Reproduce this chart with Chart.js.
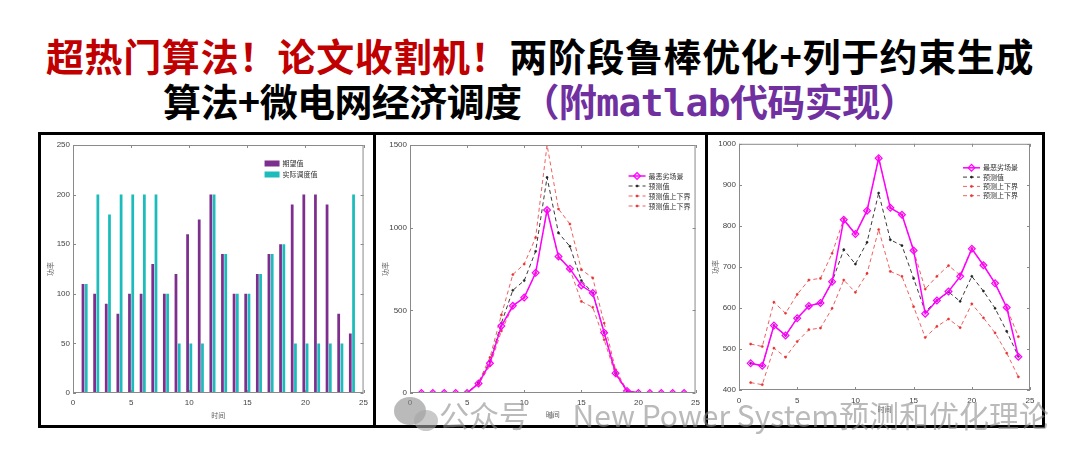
<!DOCTYPE html>
<html>
<head>
<meta charset="utf-8">
<script src="https://cdn.jsdelivr.net/npm/chart.js@4.4.1/dist/chart.umd.min.js"></script>
<style>
  html, body { margin: 0; padding: 0; background: #fff; }
  body { width: 1080px; height: 465px; position: relative; overflow: hidden; font-family: "Noto Sans CJK SC", sans-serif; }
  .title { position: absolute; left: 0; width: 1080px; text-align: center; font-weight: 700; font-size: 38px; line-height: 44px; white-space: nowrap; color: #000; }
  .red { color: #c00000; }
  .purple { color: #7030a0; }
  .mono { font-family: "DejaVu Sans Mono", monospace; }
  .frame { position: absolute; left: 38px; top: 132px; width: 1007px; height: 296px; box-sizing: border-box; border: 3px solid #000; }
  .divider { position: absolute; top: 132px; width: 3px; height: 296px; background: #000; }
  .panel { position: absolute; top: 136px; height: 290px; }
  .wm { position: absolute; left: 439px; top: 394px; font-size: 30px; line-height: 40px; color: rgba(140,140,140,0.6); white-space: nowrap; z-index: 5; }
  .wx1 { position: absolute; left: 394px; top: 397px; width: 32px; height: 28px; border-radius: 50%; background: rgba(140,140,140,0.6); z-index: 5; }
  .wx2 { position: absolute; left: 414px; top: 410px; width: 24px; height: 21px; border-radius: 50%; background: rgba(165,165,165,0.6); z-index: 5; }
</style>
</head>
<body>
<div class="title" style="top:33px;letter-spacing:0.6px"><span class="red">超热门算法！论文收割机！</span>两阶段鲁棒优化+列于约束生成</div>
<div class="title" style="top:78px;letter-spacing:-0.6px">算法+微电网经济调度<span class="purple">（附<span class="mono">matlab</span>代码实现）</span></div>

<div class="frame"></div>
<div class="divider" style="left:373px"></div>
<div class="divider" style="left:705px"></div>

<div class="panel" style="left:42px;width:331px"><canvas id="chartBars"></canvas></div>
<div class="panel" style="left:377px;width:328px"><canvas id="chartPv"></canvas></div>
<div class="panel" style="left:709px;width:333px"><canvas id="chartLoad"></canvas></div>

<div class="wx1"></div><div class="wx2"></div>
<div class="wm">公众号 · New Power System预测和优化理论</div>

<script>
'use strict';

/* ── Data ── */
const hours = [1, 2, 3, 4, 5, 6, 7, 8, 9, 10, 11, 12, 13, 14, 15, 16, 17, 18, 19, 20, 21, 22, 23, 24];

// panel 1: bars
const barLabels   = ['期望值', '实际调度值'];
const barExpected = [110, 100, 90, 80, 100, 100, 130, 100, 120, 160, 175, 200, 140, 100, 100, 120, 140, 150, 190, 200, 200, 190, 80, 60];
const barDispatch = [110, 200, 180, 200, 200, 200, 200, 100, 50, 50, 50, 200, 140, 100, 100, 120, 140, 150, 50, 50, 50, 50, 50, 200];

// panel 2: PV output
const pvLabels   = ['最恶劣场景', '预测值', '预测值上下界', '预测值上下界'];
const pvWorst    = [0, 0, 0, 0, 0, 58, 180, 405, 527, 577, 727, 1107, 825, 752, 650, 605, 365, 120, 12, 0, 0, 0, 0, 0];
const pvForecast = [0, 0, 0, 0, 0, 60, 192, 422, 621, 680, 857, 1304, 968, 887, 680, 605, 365, 120, 12, 0, 0, 0, 0, 0];
const pvUpper    = [0, 0, 0, 0, 0, 65, 215, 472, 716, 780, 940, 1500, 1113, 1022, 746, 696, 423, 141, 15, 0, 0, 0, 0, 0];
const pvLower    = [0, 0, 0, 0, 0, 52, 165, 375, 525, 578, 725, 1105, 820, 748, 554, 518, 322, 107, 9, 0, 0, 0, 0, 0];

// panel 3: load
const loadLabels   = ['最恶劣场景', '预测值', '预测上下界', '预测上下界'];
const loadWorst    = [465, 459, 557, 533, 575, 605, 612, 664, 815, 780, 837, 965, 844, 827, 740, 586, 618, 640, 677, 744, 704, 660, 601, 481];
const loadForecast = [465, 459, 557, 533, 575, 605, 612, 664, 742, 707, 760, 880, 766, 752, 672, 591, 618, 639, 616, 677, 641, 599, 543, 482];
const loadUpper    = [512, 506, 614, 587, 633, 668, 672, 733, 817, 780, 837, 966, 844, 827, 740, 646, 677, 703, 680, 745, 705, 660, 600, 530];
const loadLower    = [418, 413, 502, 480, 518, 547, 551, 599, 668, 638, 684, 791, 689, 677, 603, 528, 555, 573, 552, 610, 576, 539, 490, 432];

const xTitle = '时间';
const yTitle = '功率';

/* ── Defaults ── */
const CJK = "'Noto Sans CJK SC', sans-serif";
Chart.defaults.font.family = "'Liberation Sans', Arial, sans-serif";
Chart.defaults.font.size = 8;
Chart.defaults.color = '#444';
Chart.defaults.animation = false;
Chart.defaults.events = [];
Chart.defaults.plugins.legend.display = false;
Chart.defaults.plugins.tooltip.enabled = false;

const points = (arr) => hours.map((h, i) => ({ x: h, y: arr[i] }));

/* ── MATLAB-like box with inward ticks ── */
const matlabBox = {
  id: 'matlabBox',
  afterDatasetsDraw(chart) {
    const { ctx, chartArea: a, scales: { x, y } } = chart;
    ctx.save();
    ctx.strokeStyle = '#8a8a8a';
    ctx.lineWidth = 1;
    ctx.strokeRect(a.left + 0.5, a.top + 0.5, a.width - 1, a.height - 1);
    ctx.beginPath();
    x.ticks.forEach(t => {
      const px = Math.round(x.getPixelForValue(t.value)) + 0.5;
      ctx.moveTo(px, a.bottom); ctx.lineTo(px, a.bottom - 3);
      ctx.moveTo(px, a.top);    ctx.lineTo(px, a.top + 3);
    });
    y.ticks.forEach(t => {
      const py = Math.round(y.getPixelForValue(t.value)) + 0.5;
      ctx.moveTo(a.left, py);  ctx.lineTo(a.left + 3, py);
      ctx.moveTo(a.right, py); ctx.lineTo(a.right - 3, py);
    });
    ctx.stroke();
    ctx.restore();
  }
};

/* ── Legend inside the axes (top right) ── */
const insideLegend = {
  id: 'insideLegend',
  afterDraw(chart, args, opts) {
    const { ctx, chartArea: a } = chart;
    const x0 = a.right - opts.right;
    let yy = a.top + opts.top;
    ctx.save();
    ctx.font = `7px ${CJK}`;
    ctx.textBaseline = 'middle';
    chart.data.datasets.forEach(ds => {
      if (chart.config.type === 'bar') {
        ctx.fillStyle = ds.backgroundColor;
        ctx.fillRect(x0, yy - 3, 15, 6);
      } else {
        ctx.strokeStyle = ds.borderColor;
        ctx.lineWidth = ds.borderWidth;
        ctx.setLineDash(ds.borderDash || []);
        ctx.beginPath();
        ctx.moveTo(x0, yy); ctx.lineTo(x0 + opts.sample, yy);
        ctx.stroke();
        ctx.setLineDash([]);
        ctx.fillStyle = ds.pointBackgroundColor;
        ctx.strokeStyle = ds.pointBorderColor;
        ctx.lineWidth = ds.pointBorderWidth;
        Chart.helpers.drawPoint(ctx, { pointStyle: ds.pointStyle, radius: ds.pointRadius, rotation: 0, borderWidth: ds.pointBorderWidth }, x0 + opts.sample / 2, yy);
      }
      ctx.fillStyle = '#333';
      ctx.fillText(ds.label, x0 + opts.sample + 3, yy);
      yy += opts.row;
    });
    ctx.restore();
  }
};

/* ── Shared scale config ── */
const makeScales = (yMin, yMax, yStep, d) => ({
  x: {
    type: 'linear', min: 0, max: 25, offset: false,
    ticks: { stepSize: 5, padding: d.xPad, maxRotation: 0, autoSkip: false, callback: (v) => String(v) },
    grid: { display: false, drawTicks: false }, border: { display: false },
    title: { display: true, text: xTitle, color: '#666', font: { family: CJK, size: 7 }, padding: { top: 0, bottom: d.xTitlePad } },
    afterFit: (s) => { s.height = d.xH; },
  },
  y: {
    min: yMin, max: yMax,
    ticks: { stepSize: yStep, padding: 3, callback: (v) => String(v) },
    grid: { display: false, drawTicks: false }, border: { display: false },
    title: { display: true, text: yTitle, color: '#666', font: { family: CJK, size: 7 }, padding: { top: d.yTitlePad, bottom: 0 } },
    afterFit: (s) => { s.width = d.yW; },
  },
});

const lineSet = (label, data, kind) => {
  const base = { label, data: points(data), tension: 0, fill: false };
  if (kind === 'worst') return { ...base, borderColor: '#ff00ff', borderWidth: 1.5, pointStyle: 'rectRot', pointRadius: 3.4,
    pointBorderColor: '#ff00ff', pointBackgroundColor: 'rgba(255,0,255,0.12)', pointBorderWidth: 1.2 };
  if (kind === 'fc') return { ...base, borderColor: '#3a3a3a', borderWidth: 1, borderDash: [4, 3], pointStyle: 'circle', pointRadius: 1.1,
    pointBorderColor: '#222', pointBackgroundColor: '#222', pointBorderWidth: 0.5 };
  return { ...base, borderColor: '#f06060', borderWidth: 1, borderDash: [4, 3], pointStyle: 'circle', pointRadius: 1.1,
    pointBorderColor: '#e83030', pointBackgroundColor: '#e83030', pointBorderWidth: 0.5 };
};

/* ── Panel 1: bar chart ── */
new Chart(document.getElementById('chartBars'), {
  type: 'bar',
  data: {
    datasets: [
      { label: barLabels[0], data: points(barExpected), backgroundColor: '#7e2f8e', categoryPercentage: 0.56, barPercentage: 0.85 },
      { label: barLabels[1], data: points(barDispatch), backgroundColor: '#1cbcbc', categoryPercentage: 0.56, barPercentage: 0.85 },
    ],
  },
  options: {
    responsive: true, maintainAspectRatio: false,
    layout: { padding: { left: 0, right: 5, top: 9, bottom: 0 } },
    scales: makeScales(0, 250, 50, { yW: 31, xH: 33, xPad: 5, xTitlePad: 6, yTitlePad: 4 }),
    plugins: { insideLegend: { right: 99, top: 18.5, row: 11, sample: 15 } },
  },
  plugins: [matlabBox, insideLegend],
});

/* ── Panel 2: PV forecast ── */
new Chart(document.getElementById('chartPv'), {
  type: 'line',
  data: {
    datasets: [
      lineSet(pvLabels[0], pvWorst, 'worst'),
      lineSet(pvLabels[1], pvForecast, 'fc'),
      lineSet(pvLabels[2], pvUpper, 'bound'),
      lineSet(pvLabels[3], pvLower, 'bound'),
    ],
  },
  options: {
    responsive: true, maintainAspectRatio: false,
    layout: { padding: { left: 0, right: 5, top: 9, bottom: 0 } },
    scales: makeScales(0, 1500, 500, { yW: 33, xH: 33, xPad: 5, xTitlePad: 7, yTitlePad: 4 }),
    plugins: { insideLegend: { right: 67, top: 31, row: 10, sample: 17 } },
  },
  plugins: [matlabBox, insideLegend],
});

/* ── Panel 3: load forecast ── */
new Chart(document.getElementById('chartLoad'), {
  type: 'line',
  data: {
    datasets: [
      lineSet(loadLabels[0], loadWorst, 'worst'),
      lineSet(loadLabels[1], loadForecast, 'fc'),
      lineSet(loadLabels[2], loadUpper, 'bound'),
      lineSet(loadLabels[3], loadLower, 'bound'),
    ],
  },
  options: {
    responsive: true, maintainAspectRatio: false,
    layout: { padding: { left: 0, right: 12, top: 6, bottom: 0 } },
    scales: makeScales(400, 1000, 100, { yW: 30, xH: 36, xPad: 6, xTitlePad: 12, yTitlePad: 2 }),
    plugins: { insideLegend: { right: 67, top: 24, row: 9.3, sample: 17 } },
  },
  plugins: [matlabBox, insideLegend],
});
</script>
</body>
</html>
